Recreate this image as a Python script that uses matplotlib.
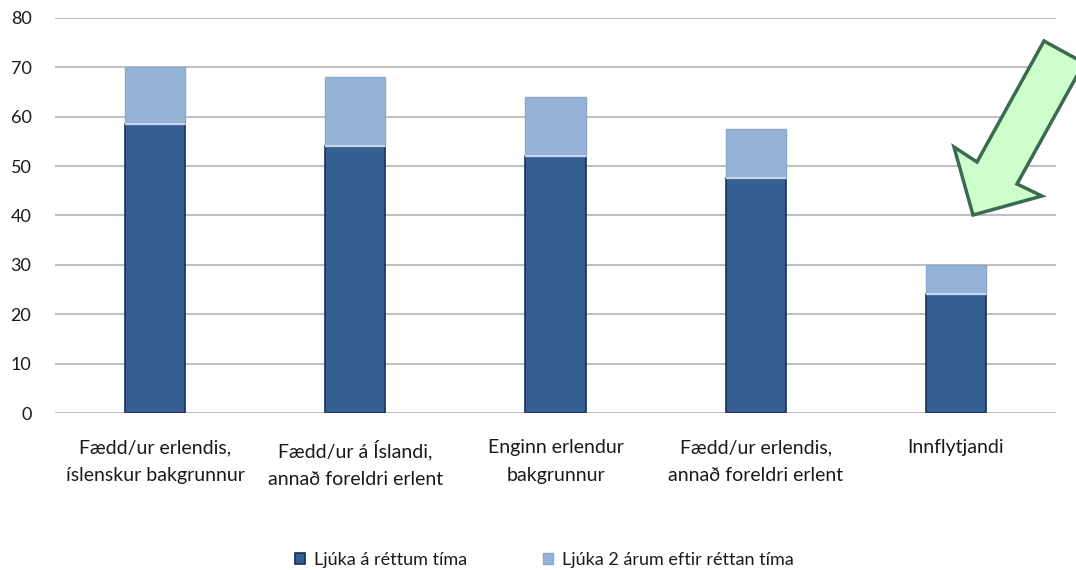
import numpy as np
import matplotlib.pyplot as plt
from matplotlib.patches import Polygon

plt.rcParams['font.family'] = ['Lato', 'DejaVu Sans']

categories = ['Fædd/ur erlendis,\níslenskur bakgrunnur',
              'Fædd/ur á Íslandi,\nannað foreldri erlent',
              'Enginn erlendur\nbakgrunnur',
              'Fædd/ur erlendis,\nannað foreldri erlent',
              'Innflytjandi']
on_time = [58.5, 54, 52, 47.5, 24]
two_years_late = [11.5, 14, 12, 10, 6]
series_names = ['Ljúka á réttum tíma', 'Ljúka 2 árum eftir réttan tíma']
y_ticks = [0, 10, 20, 30, 40, 50, 60, 70, 80]

dark = '#365f91'
dark_edge = '#1a2f55'
light = '#95b3d7'
light_edge = '#8aa8cf'
grid_col = '#c0c0c0'
txt = '#1a1a1a'

fig = plt.figure(figsize=(10.76, 5.70), dpi=100)
ax = fig.add_axes([55/1076, 157/570, 1001/1076, 395/570])

x = np.arange(len(categories))
b1 = ax.bar(x, on_time, width=0.3, color=dark, edgecolor=dark_edge, linewidth=1.2, zorder=3)
b2 = ax.bar(x, two_years_late, width=0.3, bottom=on_time, color=light,
            edgecolor=light_edge, linewidth=1.0, zorder=3)
# thin light seam between the two segments
ax.hlines(on_time, x - 0.15, x + 0.15, color='#c5d6ec', linewidth=1.5, zorder=4)

ax.set_xlim(-0.5, len(categories) - 0.5)
ax.set_ylim(0, 80)
ax.set_yticks(y_ticks)
ax.set_yticklabels([str(v) for v in y_ticks], fontsize=13, color=txt)
ax.set_xticks(x)
ax.set_xticklabels(categories, fontsize=14, color=txt, linespacing=1.75)
ax.tick_params(axis='both', length=0)
ax.tick_params(axis='y', pad=17)
ax.tick_params(axis='x', pad=19)
ax.grid(axis='y', color=grid_col, linewidth=1.5, zorder=0)
for s in ax.spines.values():
    s.set_visible(False)

fig.legend([b1, b2], series_names, loc='center', bbox_to_anchor=(544/1076, 1 - 560/570),
           ncol=2, frameon=False, fontsize=13, handlelength=0.55, handleheight=0.55,
           columnspacing=4.2, handletextpad=0.5, labelcolor=txt)

# green call-out arrow pointing at the last bar
arrow_px = [(1084, 63), (1044, 41), (977, 162), (954, 147), (973, 215),
            (1042, 196), (1017, 184)]
arrow = Polygon([(px / 1076, 1 - py / 570) for px, py in arrow_px], closed=True,
                transform=fig.transFigure, facecolor='#ccffcc', edgecolor='#3a6b4e',
                linewidth=2.5, joinstyle='miter', zorder=10)
fig.patches.append(arrow)

fig.savefig('out.png', dpi=100)
